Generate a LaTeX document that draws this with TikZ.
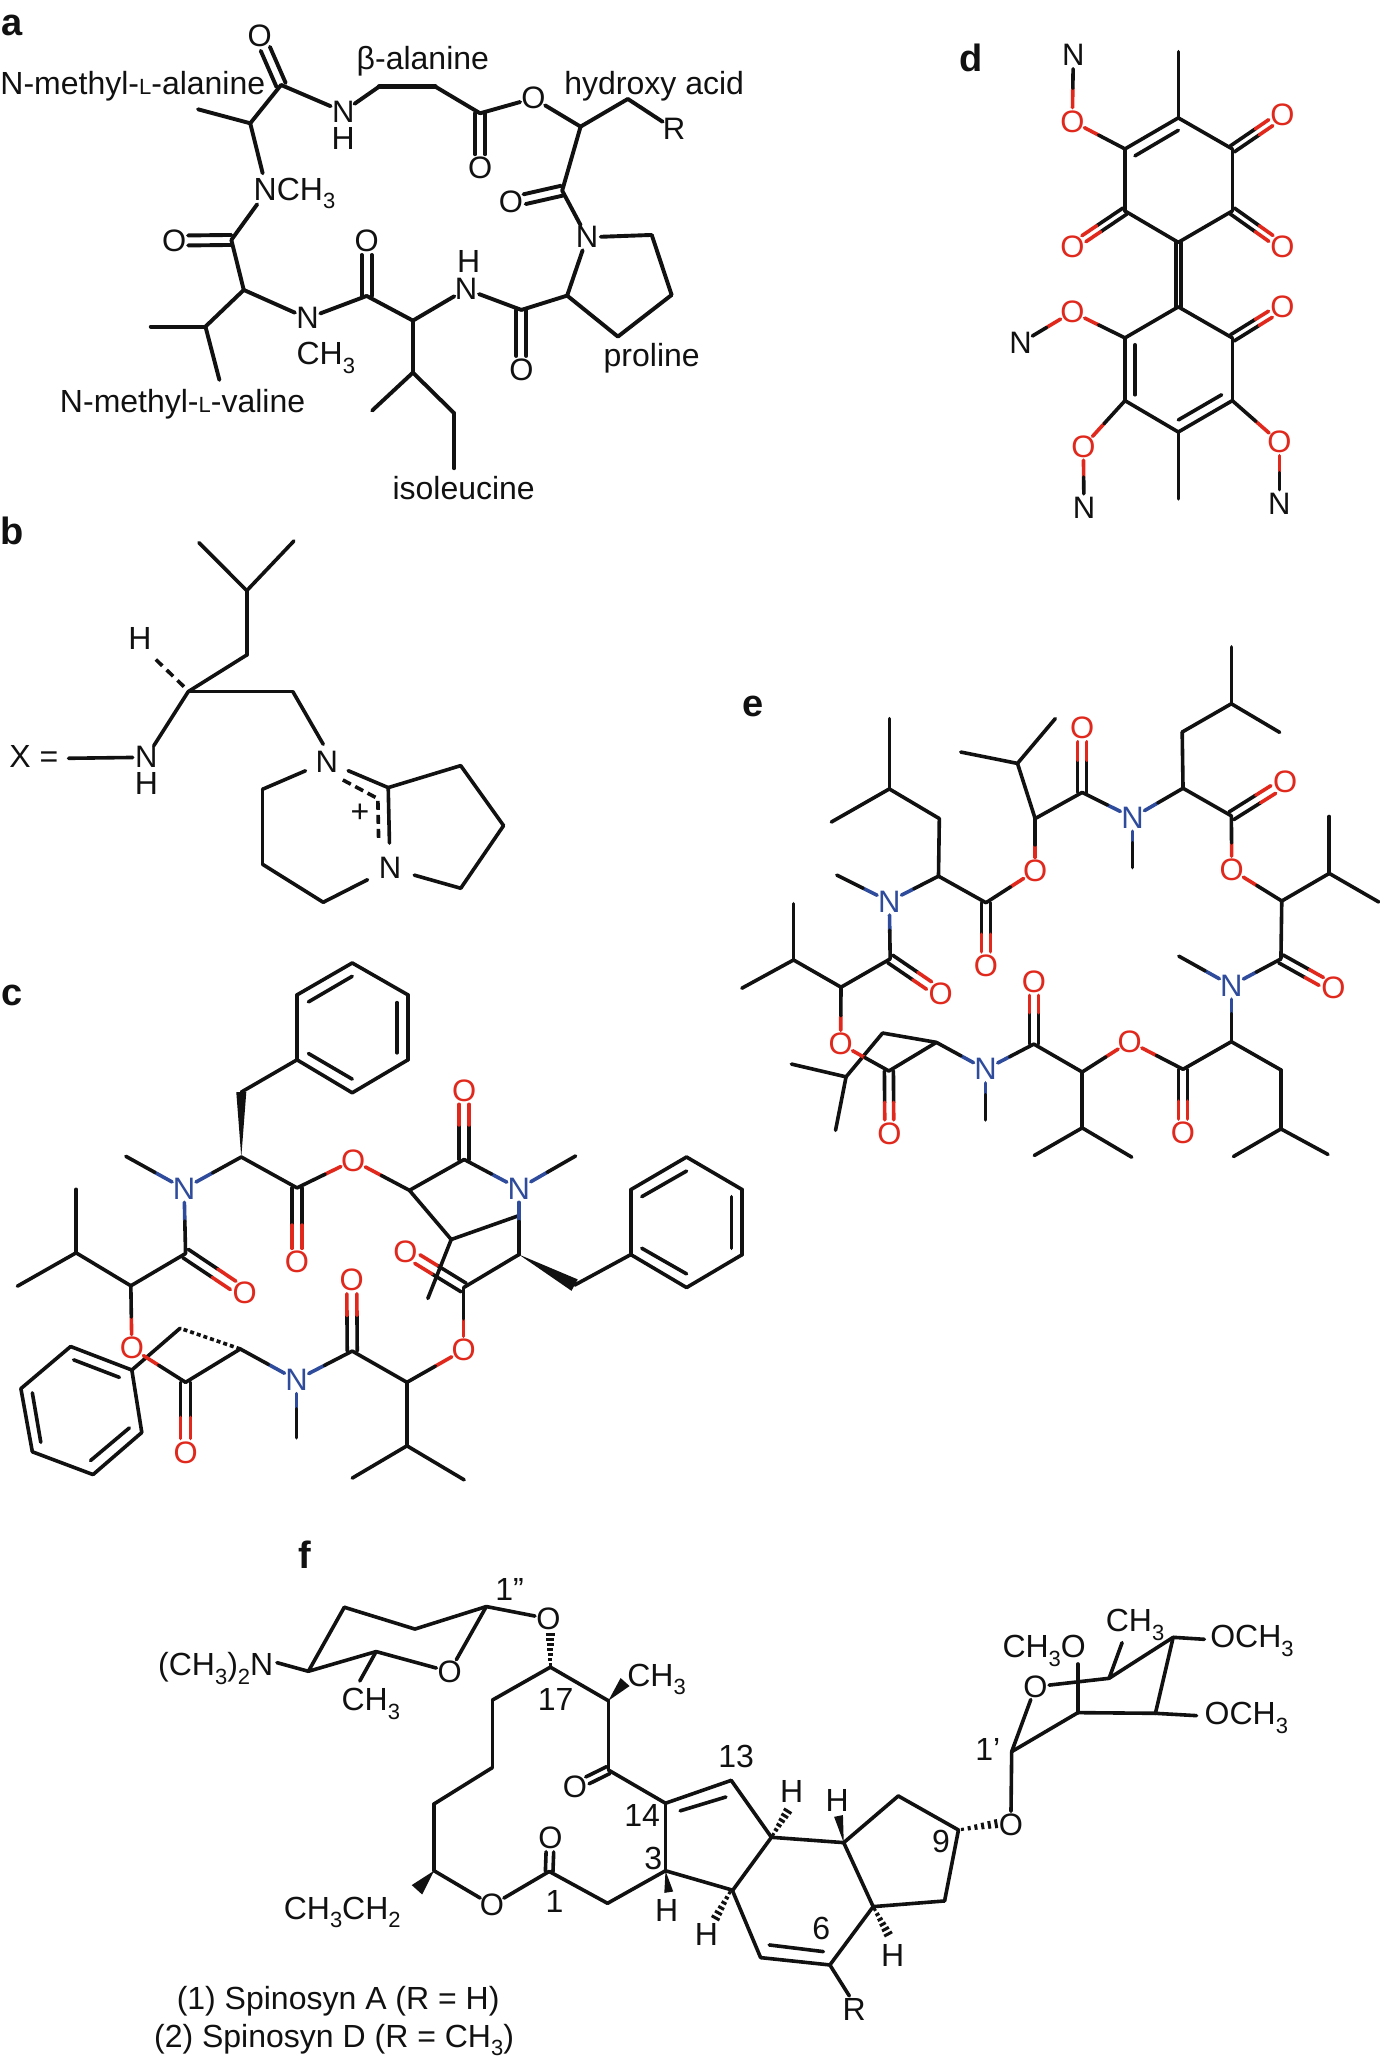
\documentclass[tikz,border=0pt]{standalone}
\usepackage{fontspec}
\setmainfont{Liberation Sans}
\usetikzlibrary{calc}
\definecolor{ink}{HTML}{111111}
\definecolor{ored}{HTML}{E0281C}
\definecolor{nblue}{HTML}{2F4B9B}
\newcommand\fs[1]{\fontsize{#1}{#1}\selectfont}
\newcommand\subs[1]{\raisebox{-0.27em}{\fs{22}#1}}
\newcommand\smL{{\fs{22}L}}
\newcommand\Cs[1]{\foreach \n/\x/\y in {#1} {\coordinate (\n) at (\x,\y);}}
\newcommand\Bs[1]{\foreach \p/\q in {#1} {\draw[bond] (\p) -- (\q);}}
\newcommand\As[2][]{\foreach \n/\x/\y/\t in {#2} {\node[atom,#1] (\n) at (\x,\y) {\makebox[0pt]{\t}};}}
\newcommand\Ts[1]{\foreach \n/\x/\y/\t in {#1} {\node[lab] (\n) at (\x,\y) {\t};}}
\newcommand\Hs[2]{\foreach \p/\q in {#2} {\draw[bond,#1] (\p) -- ($(\p)!.5!(\q)$);\draw[bond] ($(\p)!.5!(\q)$) -- (\q);}}
\newcommand\Ds[2]{\foreach \p/\q in {#2} {%
  \draw[bond,shorten >=14pt] ($(\p)!#1!90:(\q)$) -- ($(\q)!#1!-90:(\p)$);%
  \draw[bond,shorten >=14pt] ($(\p)!#1!-90:(\q)$) -- ($(\q)!#1!90:(\p)$);}}
\newcommand\Dp[2]{\foreach \p/\q in {#2} {%
  \draw[bond] ($(\p)!#1!90:(\q)$) -- ($(\q)!#1!-90:(\p)$);%
  \draw[bond] ($(\p)!#1!-90:(\q)$) -- ($(\q)!#1!90:(\p)$);}}
\newcommand\DCs[2]{\foreach \p/\q in {#2} {%
  \coordinate (mA) at ($(\p)!.5!(\q)$);%
  \draw[bond] ($(\p)!#1!90:(\q)$) -- ($(mA)!#1!90:(\q)$);%
  \draw[bond] ($(\p)!#1!-90:(\q)$) -- ($(mA)!#1!-90:(\q)$);%
  \draw[bond,ored,shorten >=14pt] ($(mA)!#1!90:(\q)$) -- ($(\q)!#1!-90:(\p)$);%
  \draw[bond,ored,shorten >=14pt] ($(mA)!#1!-90:(\q)$) -- ($(\q)!#1!90:(\p)$);}}
\newcommand\wdg[3]{\fill[ink] (#1) -- ($(#2)!#3!90:(#1)$) -- ($(#2)!#3!-90:(#1)$) -- cycle;}
\newcommand\hsh[4]{\foreach \i in {1,...,#4} {%
  \pgfmathsetmacro\f{(\i-0.4)/#4}\pgfmathsetmacro\w{1.2+\f*#3}%
  \coordinate (hP) at ($(#1)!\f!(#2)$);%
  \draw[ink,line width=3pt] ($(hP)!\w pt!90:(#2)$) -- ($(hP)!\w pt!-90:(#2)$);}}
\tikzset{
  bond/.style={ink,line width=3.6pt,line cap=round,line join=round},
  atom/.style={circle,inner sep=0pt,minimum size=27pt,text=ink,font=\fs{31}},
  red/.style={text=ored},
  blue/.style={text=nblue},
  lab/.style={inner sep=0pt,text=ink,font=\fs{32},text height=22.5pt,text depth=0pt},
  panel/.style={inner sep=0pt,text=ink,font=\fs{38}\bfseries,anchor=base},
}
\begin{document}
\begin{tikzpicture}[x=1pt,y=1pt]
\useasboundingbox (0,0) rectangle (1379,2063);
\fill[white] (0,0) rectangle (1379,2063);
\node[panel] (pa) at (12,2063-36) {a};
\node[panel] (pb) at (12,2063-545) {b};
\node[panel] (pc) at (12,2063-1006) {c};
\node[panel] (pd) at (971,2063-72) {d};
\node[panel] (pe) at (753,2063-717) {e};
\node[panel] (pf) at (305,2063-1569) {f};

% ---------- panel a
\begin{scope}[shift={(0pt,2063pt)},x=0.4975pt,y=-0.3333pt,bond/.append style={line width=3.9pt}]
\Cs{a1/565/255,a2/503/370,a3/398/328,a4/528/520,a5/517/613,a6/465/720,a7/490/870,a8/413/980,a9/303/980,a10/441/1140,
 a11/737/888,a12/830/962,a13/830/1118,a14/748/1232,a15/913/1240,a16/913/1405,a17/1048/930,a18/1140/887,a19/1242/1010,
 a20/1350/885,a21/1310/705,a22/1130/572,a23/1167/380,a24/1262/297,a25/965/340,a26/875/260,a27/762/260}
\As{aO1/522/108/O,aN1/690/335/N,aO2/350/722/O,aN2/618/955/N,aO3/737/723/O,aN3/937/868/N,aO4/1048/1110/O,
 aN4/1180/712/N,aO5/1027/607/O,aO6/1072/295/O,aO7/965/505/O,aR/1355/388/R}
\Ts{aH1/690/415/H,aH2/942/785/H,aNM/592/567/NCH\subs{3},aCM/655/1060/CH\subs{3},aL1/267/250/N-methyl-\smL-alanine,
 aL2/850/175/β-alanine,aL3/1315/250/hydroxy acid,aL4/1310/1066/proline,aL5/367/1203/N-methyl-\smL-valine,aL6/932/1465/isoleucine}
\Bs{a1/aN1,a1/a2,a2/a3,a2/a4,a5/a6,a6/a7,a7/a8,a8/a9,a8/a10,a7/aN2,aN2/a11,a11/a12,a12/a13,a13/a14,a13/a15,a15/a16,
 a12/aN3,aN3/a17,a17/a18,a18/a19,a19/a20,a20/a21,a21/aN4,aN4/a18,aN4/a22,a22/a23,a23/aO6,a23/a24,a24/aR,aO6/a25,a25/a26,a27/aN1}
\draw[bond,line width=4.8pt] (a26) -- (a27);
\Ds{5pt}{a1/aO1,a6/aO2,a11/aO3,a17/aO4,a22/aO5,a25/aO7}
\end{scope}

% ---------- panel b
\begin{scope}[shift={(0pt,1553pt)},x=0.35714pt,y=-0.3333pt]
\Cs{b1/557/98,b2/823/93,b3/691/242,b4/691/435,b5/527/545,b6/820/545,b6e/905/703,b7/735/838,b8/735/1063,b9/905/1177,b10/1290/1135,
 b11/1410/947,b12/1290/767,b13/1087/833,bH0/425/437,bH1/515/530,bX/192/745,bd1/960/810,bd2/1058/866,bd3/1060/985}
\As{bN1/410/742/N}
\As[minimum size=46pt]{bN2/915/755/N}
\As[minimum size=50pt]{bN3/1092/1075/N}
\Ts{bH/392/385/H,bH2/410/820/H,bXe/95/738/X =,bPlus/1008/905/+}
\Bs{b1/b3,b2/b3,b3/b4,b4/b5,b5/bN1,b5/b6,b6/b6e,bX/bN1,bN2/b7,b7/b8,b8/b9,b9/bN3,bN3/b10,b10/b11,b11/b12,b12/b13,b13/bN2,b13/bN3}
\draw[bond,line cap=butt,dash pattern=on 9pt off 6pt] (bH1) -- (bH0);
\draw[bond,line cap=butt,dash pattern=on 9pt off 5pt] (bd1) -- (bd2) -- (bd3);
\end{scope}

% ---------- panel c
\begin{scope}[shift={(0pt,1113pt)},x=0.4975pt,y=-0.3509pt]
\Cs{p1/708/37,p2/820/128,p3/820/313,p4/708/407,p5/597/313,p6/597/128,
 pi1/620/148,pi2/708/75,pi3/798/150,pi4/798/293,pi5/708/368,pi6/620/295,
 c1/485/405,c2/485/590,cm1/253/588,c3/373/865,c4/597/678,c5/823/685,c6/933/597,cm2/1157/587,c7/907/825,c7a/860/993,c7b/1043/757,
 c8/1043/868,c9/1155/955,q1/1380/590,q2/1492/683,q3/1492/868,q4/1380/962,q5/1268/868,q6/1268/683,
 qi1/1290/703,qi2/1380/630,qi3/1470/703,qi4/1470/850,qi5/1380/923,qi6/1290/850,
 c10/932/962,c11/818/1232,c12/708/1143,cm3/596/1390,c13/818/1413,c13a/708/1505,c13b/933/1510,c14/483/1137,c15/373/1232,
 c16/263/957,c17/153/863,c17a/153/682,c17b/35/958,c18/362/1078,
 r1/265/1197,r2/285/1375,r3/187/1495,r4/65/1430,r5/42/1250,r6/142/1130,
 ri1/240/1218,ri2/148/1168,ri3/82/1403,ri4/65/1262,ri5/182/1455,ri6/260/1362}
\As[blue]{cN1/370/680/N,cN2/1043/680/N,cN3/596/1225/N}
\As[red]{cO1/710/600/O,cO2/597/890/O,cO3/933/400/O,cO4/492/978/O,cO5/815/860/O,cO6/932/1140/O,cO7/707/940/O,cO8/373/1432/O,cO9/265/1135/O}
\Bs{p1/p2,p2/p3,p3/p4,p4/p5,p5/p6,p6/p1,pi1/pi2,pi3/pi4,pi5/pi6,p5/c1,c2/c4,c5/c6,c5/c7,c7/c7a,c7/c7b,c8/c10,
 c9/q5,q1/q2,q2/q3,q3/q4,q4/q5,q5/q6,q6/q1,qi1/qi2,qi3/qi4,qi5/qi6,c11/c12,c11/c13,c13/c13a,c13/c13b,c14/c15,c16/c3,c16/c17,
 c17/c17a,c17/c17b,c18/r1,r1/r2,r2/r3,r3/r4,r4/r5,r5/r6,r6/r1,ri1/ri2,ri3/ri4,ri5/ri6}
\Hs{nblue}{cN1/c2,cN1/cm1,cN1/c3,cN2/c6,cN2/cm2,cN2/c8,cN3/c12,cN3/cm3,cN3/c14}
\Hs{ored}{cO1/c4,cO1/c5,cO6/c10,cO6/c11,cO9/c15,cO9/c16}
\DCs{5pt}{c4/cO2,c6/cO3,c3/cO4,c10/cO5,c12/cO7,c15/cO8}
\wdg{c2}{c1}{5pt}
\wdg{c8}{c9}{6.5pt}
\draw[bond,line cap=butt,dash pattern=on 4pt off 3pt] (c14) -- (c18);
\end{scope}

% ---------- panel d
\begin{scope}[shift={(900pt,2063pt)},x=0.3333pt,y=-0.3448pt]
\Cs{d1/835/342,d2/997/432,d3/997/612,d4/835/703,d5/675/612,d6/675/432,dm1/835/150,
 d7/835/890,d8/997/980,d9/997/1162,d10/835/1253,d11/675/1162,d12/675/980,dm2/835/1447,
 di1/705/452,di2/835/378,di3/705/1000,di4/705/1145,di5/965/1145,di6/835/1218}
\As{dN1/520/160/N,dN2/362/995/N,dN3/552/1472/N,dN4/1138/1460/N}
\As[red]{dO1/517/352/O,dO2/1147/333/O,dO3/1147/715/O,dO4/517/715/O,dO5/1147/890/O,dO6/517/905/O,dO7/550/1295/O,dO8/1138/1282/O}
\Bs{d1/d2,d2/d3,d3/d4,d4/d5,d5/d6,d6/d1,d1/dm1,di1/di2,d7/d8,d8/d9,d9/d10,d10/d11,d11/d12,d12/d7,d10/dm2,di3/di4,di5/di6}
\Hs{ored}{dO1/dN1,dO1/d6,dO6/dN2,dO6/d12,dO7/d11,dO7/dN3,dO8/d9,dO8/dN4}
\Dp{2.4pt}{d4/d7}
\DCs{3.6pt}{d2/dO2,d3/dO3,d5/dO4,d8/dO5}
\end{scope}

% ---------- panel e
\begin{scope}[shift={(720pt,1423pt)},x=0.42017pt,y=-0.3448pt]
\Cs{e1/1217/20,e2/1217/185,e2a/1332/268,e3/1100/267,e4/1102/430,em1/982/660,e5/862/442,e6/750/518,e7/708/358,e7a/798/228,e7b/573/325,
 e8/633/762,e9/520/685,e10/522/518,e11/403/432,e11a/403/228,e11b/265/528,em2/278/682,e12/405/925,e13/288/1007,e14/175/928,e14a/175/765,e14b/52/1010,
 e15/402/1250,e16/515/1167,e17/387/1140,e18/300/1267,e18a/170/1230,e18b/275/1422,em3/632/1392,e19/747/1172,e20/862/1253,e21/862/1415,e21a/748/1495,e21b/980/1500,
 e22/1102/1245,e23/1217/1165,e24/1335/1247,e25/1335/1418,e25a/1222/1498,e25b/1447/1492,em4/1092/917,e26/1335/925,e27/1337/757,e28/1450/677,e28a/1450/512,e28b/1568/760,e29/1217/510}
\As[blue]{eN1/982/515/N,eN2/403/758/N,eN3/632/1245/N,eN4/1217/1002/N}
\As[red]{eO1/862/255/O,eO2/750/670/O,eO3/633/945/O,eO4/525/1025/O,eO5/287/1172/O,eO6/403/1432/O,eO7/747/990/O,eO8/975/1165/O,eO9/1102/1430/O,eO10/1460/1010/O,eO11/1218/667/O,eO12/1345/412/O}
\Bs{e1/e2,e2/e2a,e2/e3,e3/e4,e5/e6,e6/e7,e7/e7a,e7/e7b,e8/e9,e9/e10,e10/e11,e11/e11a,e11/e11b,e12/e13,e13/e14,e14/e14a,e14/e14b,
 e15/e16,e16/e17,e17/e18,e18/e18a,e18/e18b,e19/e20,e20/e21,e21/e21a,e21/e21b,e22/e23,e23/e24,e24/e25,e25/e25a,e25/e25b,e26/e27,e27/e28,e28/e28a,e28/e28b,e29/e4}
\Hs{nblue}{eN1/e4,eN1/em1,eN1/e5,eN2/e9,eN2/em2,eN2/e12,eN3/e16,eN3/em3,eN3/e19,eN4/e23,eN4/em4,eN4/e26}
\Hs{ored}{eO2/e6,eO2/e8,eO5/e13,eO5/e15,eO8/e20,eO8/e22,eO11/e27,eO11/e29}
\DCs{4.5pt}{e5/eO1,e8/eO3,e12/eO4,e15/eO6,e19/eO7,e22/eO9,e26/eO10,e29/eO12}
\end{scope}

% ---------- panel f, left part
\begin{scope}[shift={(130pt,543pt)},x=0.40816pt,y=-0.34626pt]
\Cs{f1/873/250,f2/698/315,f3/525/252,f4/437/437,f4n/360/412,f5/603/380,f5m/563/465,f6/1030/425,f6h/1030/325,f7/888/520,f8/888/715,f9/745/820,f10/745/1013,
 f10w/703/1068,f11/1027/1015,f12/1170/1107,f13/1312/1013,f13w/1320/1075,f14/1312/818,f15/1172/722,f16/1172/522,f16w/1213/468,f17/1473/1068,f17h/1432/1155,
 f18/1473/752,fi1/1348/840,fi2/1460/800}
\As{fO1/1025/285/O,fO2/783/438/O,fO3/887/1112/O,fO4/1030/918/O,fO5/1090/770/O}
\Ts{fT1/930/200/1”,fT2/210/418/(CH\subs{3})\subs{2}N,fT3/590/518/CH\subs{3},fT4/1290/447/CH\subs{3},fT5/1043/518/17,fT6/1255/853/14,fT7/1282/978/3,
 fT8/1485/683/13,fT9/1040/1100/1,fT10/1315/1127/H,fT11/1412/1195/H,fT12/520/1120/CH\subs{3}CH\subs{2},fT13/510/1380/(1) Spinosyn A (R = H),fT14/500/1490/(2) Spinosyn D (R = CH\subs{3})}
\Bs{f1/fO1,f1/f2,f2/f3,f3/f4,f4/f4n,f4/f5,f5/f5m,f5/fO2,fO2/f1,f6/f7,f7/f8,f8/f9,f9/f10,f10/fO3,fO3/f11,f11/f12,f12/f13,f13/f14,f14/f15,f15/f16,f16/f6,f13/f17,f14/f18,fi1/fi2}
\Ds{3.8pt}{f11/fO4,f15/fO5}
\wdg{f10}{f10w}{7pt}
\wdg{f16}{f16w}{6pt}
\wdg{f13}{f13w}{4.5pt}
\hsh{f6}{f6h}{3.5}{7}
\hsh{f17}{f17h}{3.5}{6}
\end{scope}

% ---------- panel f, right part
\begin{scope}[shift={(700pt,483pt)},x=0.4329pt,y=-0.3333pt]
\Cs{g1/165/772,g1h/205/688,g2/332/788,g2w/320/708,g3/400/980,g3h/437/1068,g4/300/1155,g4r/345/1248,g5/140/1133,g6/75/932,g7/458/648,g8/597/750,g8h/690/730,g9/565/963,
 gi1/160/1095,gi2/285/1115,g10/720/515,g11/873/398,g11u/873/252,g12/1052/400,g12e/1147/407,g13/1093/172,g13e/1165/178,g14/945/295,g14u/975/188}
\As{gO1/718/735/O,gO2/775/320/O}
\Ts{gR/356/1287/R,gT6/280/1045/6,gH1/212/635/H,gH2/317/660/H,gH3/445/1125/H,gT9/557/785/9,gT1/665/508/1’,gM1/795/200/CH\subs{3}O,gM2/1005/122/CH\subs{3},gM3/1275/170/OCH\subs{3},gM4/1262/400/OCH\subs{3}}
\Bs{g1/g6,g1/g2,g2/g3,g3/g4,g4/g5,g5/g6,gi1/gi2,g4/g4r,g2/g7,g7/g8,g8/g9,g9/g3,gO1/g10,g10/gO2,g10/g11,g11/g12,g12/g13,g13/g14,g14/gO2,g11/g11u,g14/g14u,g13/g13e,g12/g12e,f18/g1,f17/g6}
\wdg{g2}{g2w}{4.5pt}
\hsh{g1}{g1h}{3.5}{6}
\hsh{g3}{g3h}{3.5}{6}
\hsh{g8}{g8h}{3.5}{6}
\end{scope}
\end{tikzpicture}
\end{document}
